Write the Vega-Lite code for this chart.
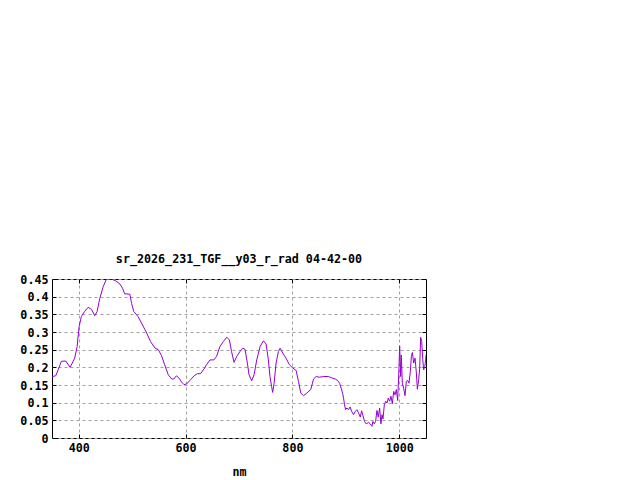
{
  "$schema": "https://vega.github.io/schema/vega-lite/v6.json",
  "width": 374,
  "height": 159,
  "autosize": {"type": "none"},
  "padding": {"left": 52, "top": 279, "right": 214, "bottom": 42},
  "background": "#ffffff",
  "config": {
    "view": {"stroke": "#000000", "strokeWidth": 1},
    "font": "DejaVu Sans Mono",
    "axis": {"labelFont": "DejaVu Sans Mono", "labelFontWeight": "bold", "labelFontSize": 11.7, "labelColor": "#000000", "titleFont": "DejaVu Sans Mono", "titleFontWeight": "bold", "titleFontSize": 11.7, "titleColor": "#000000"}
  },
  "title": {"text": "sr_2026_231_TGF__y03_r_rad 04-42-00", "font": "DejaVu Sans Mono", "fontSize": 11.7, "fontWeight": "bold", "color": "#000000", "offset": 8, "anchor": "middle"},
  "data": {"values": [
    {"nm": 350, "v": 0.174}, {"nm": 357, "v": 0.176}, {"nm": 362, "v": 0.195}, {"nm": 367.5, "v": 0.217}, {"nm": 375.7, "v": 0.218},
    {"nm": 384, "v": 0.200}, {"nm": 392.5, "v": 0.226}, {"nm": 397, "v": 0.259}, {"nm": 400.7, "v": 0.315}, {"nm": 405, "v": 0.344},
    {"nm": 411, "v": 0.358}, {"nm": 417.6, "v": 0.370}, {"nm": 424, "v": 0.364}, {"nm": 430, "v": 0.346}, {"nm": 434.4, "v": 0.358},
    {"nm": 439.4, "v": 0.395}, {"nm": 445.7, "v": 0.428}, {"nm": 452, "v": 0.450}, {"nm": 461, "v": 0.450}, {"nm": 469, "v": 0.445},
    {"nm": 477, "v": 0.436}, {"nm": 482, "v": 0.424}, {"nm": 486, "v": 0.408}, {"nm": 495.7, "v": 0.407}, {"nm": 499, "v": 0.381},
    {"nm": 503, "v": 0.358}, {"nm": 511, "v": 0.344}, {"nm": 517.6, "v": 0.325}, {"nm": 526, "v": 0.301}, {"nm": 534.4, "v": 0.273},
    {"nm": 543, "v": 0.254}, {"nm": 549, "v": 0.250}, {"nm": 555, "v": 0.233}, {"nm": 561, "v": 0.207}, {"nm": 567.6, "v": 0.179},
    {"nm": 574, "v": 0.167}, {"nm": 578, "v": 0.167}, {"nm": 583, "v": 0.176}, {"nm": 588, "v": 0.169}, {"nm": 592.6, "v": 0.158},
    {"nm": 597, "v": 0.151}, {"nm": 602, "v": 0.153}, {"nm": 609.4, "v": 0.165}, {"nm": 616, "v": 0.176}, {"nm": 622, "v": 0.182},
    {"nm": 628, "v": 0.182}, {"nm": 634.4, "v": 0.195}, {"nm": 639, "v": 0.207}, {"nm": 645.7, "v": 0.221}, {"nm": 653, "v": 0.221},
    {"nm": 658, "v": 0.231}, {"nm": 664.4, "v": 0.259}, {"nm": 670.7, "v": 0.273}, {"nm": 677, "v": 0.285}, {"nm": 682, "v": 0.278},
    {"nm": 686, "v": 0.245}, {"nm": 690.7, "v": 0.214}, {"nm": 695.7, "v": 0.231}, {"nm": 702, "v": 0.245}, {"nm": 707, "v": 0.254},
    {"nm": 711.3, "v": 0.251}, {"nm": 715.7, "v": 0.212}, {"nm": 718.8, "v": 0.179}, {"nm": 723.8, "v": 0.162}, {"nm": 728.2, "v": 0.179},
    {"nm": 733.2, "v": 0.221}, {"nm": 739.5, "v": 0.259}, {"nm": 745.7, "v": 0.275}, {"nm": 750.7, "v": 0.266}, {"nm": 755, "v": 0.221},
    {"nm": 758, "v": 0.174}, {"nm": 761, "v": 0.146}, {"nm": 763, "v": 0.129}, {"nm": 765.7, "v": 0.155}, {"nm": 769.4, "v": 0.212},
    {"nm": 773.8, "v": 0.245}, {"nm": 777, "v": 0.254}, {"nm": 782, "v": 0.240}, {"nm": 788, "v": 0.226}, {"nm": 794.5, "v": 0.207},
    {"nm": 800.7, "v": 0.198}, {"nm": 807, "v": 0.191}, {"nm": 811.3, "v": 0.160}, {"nm": 815.7, "v": 0.127}, {"nm": 820.7, "v": 0.120},
    {"nm": 827, "v": 0.127}, {"nm": 834.5, "v": 0.138}, {"nm": 839.5, "v": 0.167}, {"nm": 844.5, "v": 0.174}, {"nm": 850.7, "v": 0.172},
    {"nm": 858, "v": 0.174}, {"nm": 867.5, "v": 0.174}, {"nm": 870.7, "v": 0.172}, {"nm": 875.7, "v": 0.169}, {"nm": 880, "v": 0.167},
    {"nm": 884.4, "v": 0.163}, {"nm": 888.2, "v": 0.155}, {"nm": 891.3, "v": 0.141}, {"nm": 893.8, "v": 0.127}, {"nm": 895.7, "v": 0.113},
    {"nm": 897.6, "v": 0.094}, {"nm": 899.5, "v": 0.080}, {"nm": 902, "v": 0.085}, {"nm": 905, "v": 0.080}, {"nm": 908, "v": 0.088},
    {"nm": 911, "v": 0.075}, {"nm": 914.5, "v": 0.066}, {"nm": 917.6, "v": 0.075}, {"nm": 920.7, "v": 0.080}, {"nm": 923.8, "v": 0.071},
    {"nm": 927, "v": 0.059}, {"nm": 929.5, "v": 0.077}, {"nm": 932, "v": 0.063}, {"nm": 935, "v": 0.047}, {"nm": 938, "v": 0.040},
    {"nm": 942.6, "v": 0.044}, {"nm": 945.7, "v": 0.040}, {"nm": 948.8, "v": 0.033}, {"nm": 950.7, "v": 0.047}, {"nm": 953.2, "v": 0.040},
    {"nm": 955.7, "v": 0.047}, {"nm": 958.2, "v": 0.078}, {"nm": 960.7, "v": 0.059}, {"nm": 963.2, "v": 0.085}, {"nm": 965.7, "v": 0.040},
    {"nm": 967.6, "v": 0.066}, {"nm": 969.5, "v": 0.054}, {"nm": 972, "v": 0.094}, {"nm": 974.5, "v": 0.104}, {"nm": 977, "v": 0.099},
    {"nm": 979.5, "v": 0.113}, {"nm": 982, "v": 0.104}, {"nm": 984.5, "v": 0.118}, {"nm": 987, "v": 0.097}, {"nm": 989.5, "v": 0.132},
    {"nm": 992, "v": 0.122}, {"nm": 994.5, "v": 0.137}, {"nm": 997, "v": 0.106}, {"nm": 999.5, "v": 0.202}, {"nm": 1000.7, "v": 0.261},
    {"nm": 1002.6, "v": 0.174}, {"nm": 1003.8, "v": 0.235}, {"nm": 1005.7, "v": 0.155}, {"nm": 1008.2, "v": 0.141}, {"nm": 1010.7, "v": 0.120},
    {"nm": 1013.2, "v": 0.160}, {"nm": 1015.7, "v": 0.163}, {"nm": 1018.2, "v": 0.155}, {"nm": 1020.7, "v": 0.188}, {"nm": 1022.6, "v": 0.231},
    {"nm": 1024.5, "v": 0.242}, {"nm": 1027, "v": 0.212}, {"nm": 1029.5, "v": 0.226}, {"nm": 1032, "v": 0.184}, {"nm": 1033.8, "v": 0.138},
    {"nm": 1036.3, "v": 0.165}, {"nm": 1038.2, "v": 0.198}, {"nm": 1040, "v": 0.285}, {"nm": 1042, "v": 0.273}, {"nm": 1044, "v": 0.221},
    {"nm": 1045.7, "v": 0.193}, {"nm": 1047.6, "v": 0.202}, {"nm": 1049.5, "v": 0.221}, {"nm": 1050, "v": 0.235}
  ]},
  "resolve": {"axis": {"x": "independent", "y": "independent"}},
  "layer": [
    {
      "mark": {"type": "line", "color": "#9400D3", "strokeWidth": 1, "clip": true, "interpolate": "linear"},
      "encoding": {
        "x": {"field": "nm", "type": "quantitative", "scale": {"domain": [350, 1050], "nice": false, "zero": false},
          "axis": {"title": "nm", "titlePadding": 13, "values": [400, 600, 800, 1000], "format": "d", "tickSize": -4, "tickColor": "#000000", "labelPadding": 8, "domain": false,
            "grid": true, "gridColor": "#a0a0a0", "gridDash": [3, 3], "gridWidth": 1, "labelFlush": false}},
        "y": {"field": "v", "type": "quantitative", "scale": {"domain": [0, 0.45], "nice": false},
          "axis": {"title": null, "values": [0, 0.05, 0.1, 0.15, 0.2, 0.25, 0.3, 0.35, 0.4, 0.45], "format": ".2~f", "tickSize": -4, "tickColor": "#000000", "labelPadding": 8, "domain": false,
            "grid": true, "gridColor": "#a0a0a0", "gridDash": [3, 3], "gridWidth": 1, "labelFlush": false}}
      }
    },
    {
      "mark": {"type": "line", "opacity": 0, "clip": true},
      "encoding": {
        "x": {"field": "nm", "type": "quantitative", "scale": {"domain": [350, 1050], "nice": false, "zero": false},
          "axis": {"orient": "top", "title": null, "labels": false, "values": [400, 600, 800, 1000], "tickSize": -4, "tickColor": "#000000", "domain": false, "grid": false}},
        "y": {"field": "v", "type": "quantitative", "scale": {"domain": [0, 0.45], "nice": false},
          "axis": {"orient": "right", "title": null, "labels": false, "values": [0, 0.05, 0.1, 0.15, 0.2, 0.25, 0.3, 0.35, 0.4, 0.45], "tickSize": -4, "tickColor": "#000000", "domain": false, "grid": false}}
      }
    }
  ]
}
